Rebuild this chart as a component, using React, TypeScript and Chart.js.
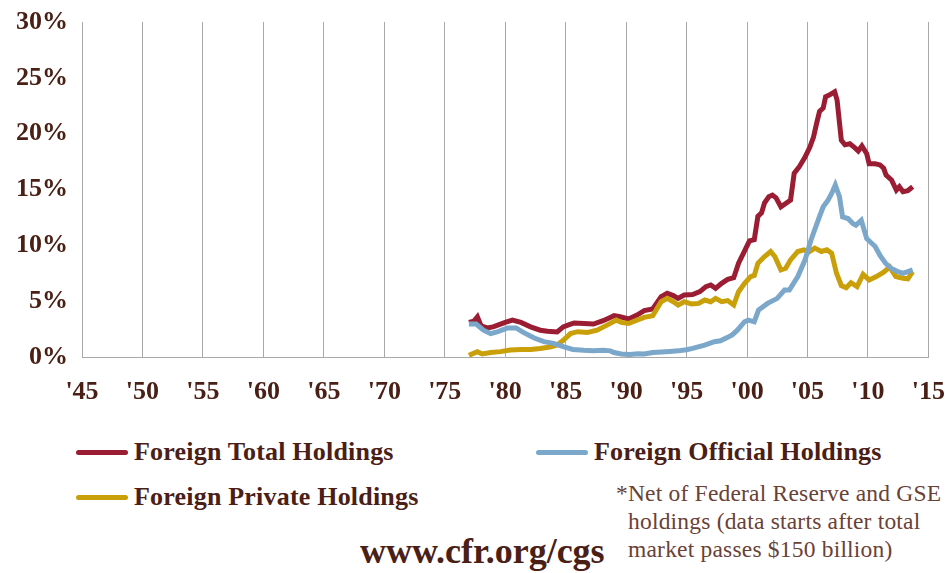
import React, { useEffect, useRef } from "react";
import { Chart, registerables } from "chart.js";

Chart.register(...registerables);

const totalYears = [1977.0, 1977.4, 1977.7, 1978.0, 1978.5, 1979.0, 1979.5, 1980.0, 1980.6, 1981.3, 1982.1, 1982.9, 1983.5, 1984.3, 1984.8, 1985.3, 1985.7, 1986.5, 1987.3, 1988.1, 1988.6, 1989.0, 1989.5, 1990.2, 1990.9, 1991.5, 1992.2, 1992.9, 1993.4, 1993.9, 1994.3, 1994.8, 1995.5, 1996.1, 1996.6, 1997.0, 1997.4, 1997.9, 1998.4, 1998.9, 1999.3, 1999.8, 2000.2, 2000.6, 2000.9, 2001.2, 2001.45, 2001.8, 2002.1, 2002.4, 2002.8, 2003.2, 2003.6, 2003.9, 2004.3, 2004.8, 2005.2, 2005.5, 2005.75, 2006.0, 2006.3, 2006.5, 2006.8, 2007.25, 2007.45, 2007.8, 2008.1, 2008.5, 2008.9, 2009.2, 2009.5, 2009.9, 2010.1, 2010.6, 2011.0, 2011.3, 2011.5, 2011.95, 2012.35, 2012.6, 2012.9, 2013.3, 2013.7];
const totalValues = [3.1, 3.2, 3.6, 2.8, 2.6, 2.7, 2.9, 3.1, 3.3, 3.1, 2.7, 2.4, 2.3, 2.25, 2.7, 2.9, 3.05, 3.0, 2.95, 3.25, 3.5, 3.7, 3.6, 3.4, 3.75, 4.15, 4.3, 5.4, 5.7, 5.5, 5.25, 5.55, 5.6, 5.85, 6.3, 6.45, 6.15, 6.6, 6.95, 7.1, 8.4, 9.5, 10.4, 10.5, 12.6, 12.9, 13.8, 14.35, 14.5, 14.25, 13.45, 13.75, 14.05, 16.45, 17.0, 17.9, 18.8, 19.7, 20.9, 22.0, 22.3, 23.3, 23.45, 23.75, 23.0, 19.4, 19.0, 19.1, 18.75, 18.45, 18.9, 18.2, 17.3, 17.3, 17.2, 16.9, 16.3, 15.85, 14.95, 15.25, 14.8, 14.9, 15.25];

const officialYears = [1977.0, 1977.6, 1978.2, 1978.8, 1979.4, 1980.2, 1980.9, 1981.5, 1982.4, 1983.2, 1984.0, 1984.8, 1985.6, 1986.5, 1987.3, 1988.1, 1988.7, 1989.0, 1989.6, 1990.3, 1991.0, 1991.5, 1992.2, 1992.9, 1993.6, 1994.3, 1995.0, 1995.5, 1996.5, 1997.3, 1997.8, 1998.4, 1998.8, 1999.2, 1999.8, 2000.1, 2000.6, 2000.95, 2001.7, 2002.5, 2003.1, 2003.5, 2004.2, 2004.8, 2005.3, 2005.9, 2006.3, 2006.7, 2007.0, 2007.3, 2007.65, 2007.9, 2008.35, 2008.75, 2009.0, 2009.45, 2009.9, 2010.2, 2010.6, 2011.0, 2011.45, 2011.9, 2012.45, 2012.9, 2013.3, 2013.7];
const officialValues = [2.95, 2.95, 2.4, 2.1, 2.27, 2.6, 2.6, 2.2, 1.7, 1.37, 1.22, 0.92, 0.68, 0.6, 0.55, 0.6, 0.55, 0.4, 0.27, 0.22, 0.3, 0.27, 0.4, 0.45, 0.5, 0.55, 0.65, 0.77, 1.07, 1.37, 1.45, 1.76, 2.0, 2.4, 3.16, 3.3, 3.15, 4.2, 4.8, 5.25, 6.0, 6.0, 7.2, 8.7, 10.5, 12.3, 13.45, 14.05, 14.65, 15.4, 14.35, 12.55, 12.4, 11.95, 11.8, 12.25, 10.6, 10.3, 9.9, 9.1, 8.4, 7.95, 7.65, 7.5, 7.65, 7.8];

const privateYears = [1977.0, 1977.7, 1978.1, 1978.8, 1979.6, 1980.4, 1981.3, 1982.1, 1982.9, 1983.8, 1984.3, 1984.8, 1985.4, 1986.0, 1986.8, 1987.6, 1988.5, 1989.2, 1989.6, 1990.2, 1990.9, 1991.5, 1992.2, 1992.9, 1993.4, 1993.9, 1994.3, 1994.8, 1995.4, 1996.0, 1996.5, 1997.0, 1997.4, 1997.9, 1998.4, 1998.9, 1999.3, 1999.8, 2000.3, 2000.6, 2000.9, 2001.45, 2001.95, 2002.3, 2002.8, 2003.2, 2003.6, 2004.2, 2004.7, 2005.1, 2005.6, 2006.15, 2006.6, 2007.0, 2007.4, 2007.8, 2008.2, 2008.6, 2009.1, 2009.6, 2010.1, 2010.7, 2011.3, 2011.8, 2012.3, 2012.9, 2013.3, 2013.7];
const privateValues = [0.15, 0.48, 0.27, 0.4, 0.48, 0.63, 0.68, 0.68, 0.77, 0.92, 1.07, 1.5, 2.1, 2.27, 2.2, 2.4, 2.9, 3.3, 3.1, 3.0, 3.3, 3.55, 3.7, 4.95, 5.25, 4.95, 4.65, 4.95, 4.75, 4.8, 5.1, 4.95, 5.25, 4.95, 5.05, 4.65, 5.85, 6.6, 7.2, 7.3, 8.4, 9.0, 9.45, 9.0, 7.8, 7.95, 8.7, 9.45, 9.6, 9.4, 9.75, 9.45, 9.6, 9.3, 7.5, 6.4, 6.2, 6.65, 6.3, 7.4, 6.9, 7.2, 7.6, 8.05, 7.2, 7.05, 7.0, 7.65];

const seriesNames = ["Foreign Total Holdings", "Foreign Official Holdings", "Foreign Private Holdings"];
const seriesColors = ["#9b1d33", "#7ba7cb", "#c9a00a"];
const xMin = 1945;
const xMax = 2015;
const yMax = 30;
const noteLines = ["*Net of Federal Reserve and GSE", "holdings (data starts after total", "market passes $150 billion)"];
const sourceText = "www.cfr.org/cgs";

const TEXT = "#4a2016";
const NOTE = "#6a4136";
const GRID = "#a8a8a8";
const FONT = "'Liberation Serif', 'Times New Roman', serif";
const CANVAS_H = 420;

function pts(xs: number[], ys: number[]) {
  return xs.map((x, i) => ({ x, y: ys[i] }));
}

export default function App() {
  const ref = useRef<HTMLCanvasElement | null>(null);
  useEffect(() => {
    if (!ref.current) return;
    const data = [pts(totalYears, totalValues), pts(officialYears, officialValues), pts(privateYears, privateValues)];
    const order = [1, 2, 0];
    const chart = new Chart(ref.current, {
      type: "line",
      data: {
        datasets: order.map((i) => ({
          label: seriesNames[i],
          data: data[i],
          borderColor: seriesColors[i],
          borderWidth: 5,
          pointRadius: 0,
          tension: 0,
          fill: false,
        })),
      },
      options: {
        responsive: false,
        animation: false,
        devicePixelRatio: 1,
        layout: { padding: { top: 22, right: 0, left: 0, bottom: 0 } },
        plugins: { legend: { display: false }, tooltip: { enabled: false } },
        scales: {
          x: {
            type: "linear",
            min: xMin,
            max: xMax,
            grid: { color: GRID, lineWidth: 1, drawTicks: true, tickLength: 20, tickColor: "rgba(0,0,0,0)" },
            border: { color: GRID, width: 1 },
            ticks: {
              stepSize: 5,
              padding: 0,
              color: TEXT,
              font: { family: FONT, size: 26, weight: "bold" },
              maxRotation: 0,
              callback: (v: any) => "'" + String(v).slice(2),
            },
            afterFit: (s: any) => {
              s.height = 63;
            },
          },
          y: {
            min: 0,
            max: yMax,
            grid: { display: true, drawOnChartArea: false, drawTicks: true, tickLength: 14, tickColor: "rgba(0,0,0,0)", color: "rgba(0,0,0,0)" },
            border: { display: false },
            ticks: {
              stepSize: 5,
              padding: 0,
              color: TEXT,
              font: { family: FONT, size: 26, weight: "bold" },
              callback: (v: any) => v + "%",
            },
            afterFit: (s: any) => {
              s.width = 82;
            },
          },
        },
      },
    });
    return () => chart.destroy();
  }, []);

  const legendItem = (i: number, left: number, top: number) => (
    <div key={i} style={{ position: "absolute", left, top, display: "flex", alignItems: "center", transform: "translateY(-50%)" }}>
      <div style={{ width: 52, height: 5, borderRadius: 3, background: seriesColors[i], marginRight: 6 }} />
      <span style={{ fontFamily: FONT, fontWeight: "bold", fontSize: 26, color: TEXT, whiteSpace: "nowrap", letterSpacing: 0.2 }}>{seriesNames[i]}</span>
    </div>
  );

  return (
    <div style={{ position: "absolute", left: 0, top: 0, width: 945, height: 573, background: "#fff", overflow: "hidden" }}>
      <canvas ref={ref} width={945} height={CANVAS_H} style={{ position: "absolute", left: 0, top: 0 }} />
      {legendItem(0, 76, 452)}
      {legendItem(1, 536, 452)}
      {legendItem(2, 76, 497)}
      {noteLines.map((t, k) => (
        <div key={k} style={{ position: "absolute", left: k === 0 ? 616 : 628, top: 493 + k * 28, transform: "translateY(-50%)", fontFamily: FONT, fontSize: 23.5, color: NOTE, whiteSpace: "nowrap", letterSpacing: 0.2 }}>{t}</div>
      ))}
      <div style={{ position: "absolute", left: 360, top: 551, transform: "translateY(-50%)", fontFamily: FONT, fontWeight: "bold", fontSize: 36, color: TEXT, whiteSpace: "nowrap" }}>{sourceText}</div>
    </div>
  );
}
